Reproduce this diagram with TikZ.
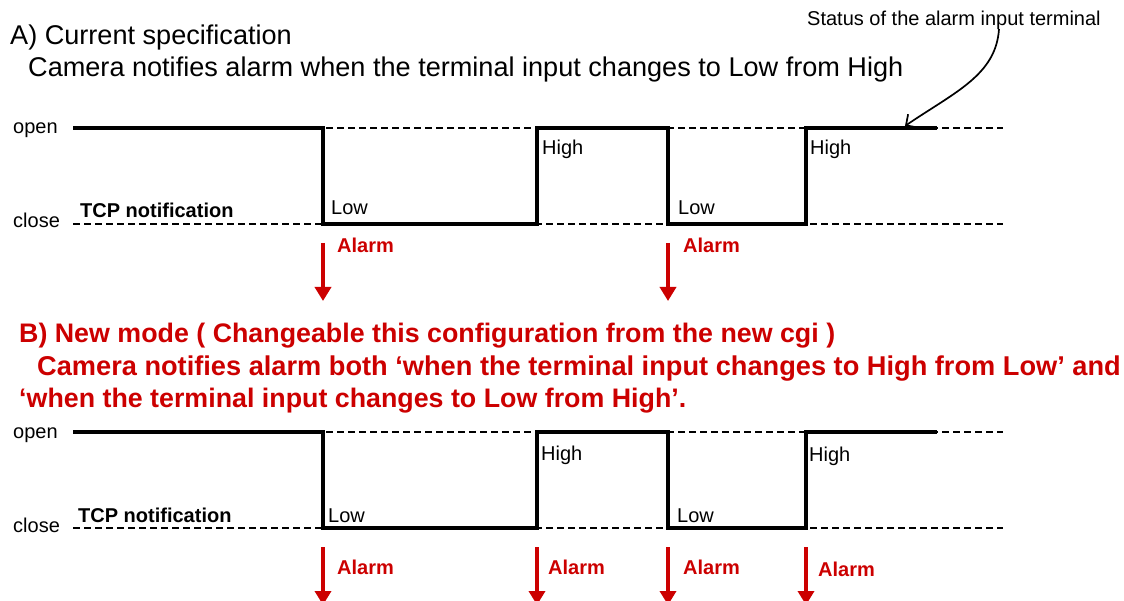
\documentclass[tikz,border=0pt]{standalone}
\usepackage{fontspec}
\setmainfont{Liberation Sans}
\usetikzlibrary{arrows.meta}
\definecolor{alarmred}{RGB}{204,0,0}
\tikzset{
  signal/.style={line width=4pt},
  level/.style={line width=1.4pt, dash pattern=on 7pt off 4pt},
  alarm/.style={alarmred, line width=4.2pt, -{Triangle[width=16pt,length=14pt]}},
  note/.style={line width=1.7pt, -{Straight Barb[length=8pt,width=16pt]}},
  txt/.style={anchor=base west, inner sep=0pt, font=\fontsize{20}{24}\selectfont},
  boldtxt/.style={txt, font=\fontsize{20}{24}\selectfont\bfseries},
  alarmtxt/.style={boldtxt, text=alarmred},
  headA/.style={anchor=base west, inner sep=0pt, font=\fontsize{27.1}{32}\selectfont},
  headB/.style={anchor=base west, inner sep=0pt, text=alarmred, font=\fontsize{26.8}{32}\selectfont\bfseries}
}
\begin{document}
\begin{tikzpicture}[x=1pt, y=-1pt]
  \useasboundingbox (0,0) rectangle (1124,601);
  \clip (0,0) rectangle (1124,601);
  % A) current specification
  \node[headA] (titleA) at (10,45) {A) Current specification};
  \node[headA] (descA) at (28,77) {Camera notifies alarm when the terminal input changes to Low from High};
  \node[txt] (status) at (807,26) {Status of the alarm input terminal};
  \node[txt] (openA) at (13,134) {open};
  \node[txt] (closeA) at (13,228) {close};
  \node[boldtxt] (tcpA) at (80,218) {TCP notification};
  \draw[level] (73,128) -- (1003,128);
  \draw[level] (73,224) -- (1003,224);
  \draw[signal] (73,128) -- (323,128) -- (323,224) -- (537,224) -- (537,128) -- (668,128)
    -- (668,224) -- (806,224) -- (806,128) -- (937,128);
  \node[txt] (lowA1) at (331,215) {Low};
  \node[txt] (highA1) at (542,155) {High};
  \node[txt] (lowA2) at (678,215) {Low};
  \node[txt] (highA2) at (810,155) {High};
  \coordinate (pin) at (999,29);
  \coordinate (pinEnd) at (905,126);
  \draw[note] (pin) .. controls (996,75) and (955,92) .. (pinEnd);
  \draw[alarm] (323,243) -- (323,301);
  \node[alarmtxt] (alarmA1) at (337,253) {Alarm};
  \draw[alarm] (668,243) -- (668,301);
  \node[alarmtxt] (alarmA2) at (683,253) {Alarm};
  % B) new mode
  \node[headB] (titleB) at (19,343) {B) New mode ( Changeable this configuration from the new cgi )};
  \node[headB, font=\fontsize{27.2}{32}\selectfont\bfseries] (descB1) at (37,375) {Camera notifies alarm both ‘when the terminal input changes to High from Low’ and};
  \node[headB] (descB2) at (19,407) {‘when the terminal input changes to Low from High’.};
  \node[txt] (openB) at (13,438) {open};
  \node[txt] (closeB) at (13,532) {close};
  \node[boldtxt] (tcpB) at (78,522) {TCP notification};
  \draw[level] (73,432) -- (1003,432);
  \draw[level] (73,528) -- (1003,528);
  \draw[signal] (73,432) -- (323,432) -- (323,528) -- (537,528) -- (537,432) -- (668,432)
    -- (668,528) -- (806,528) -- (806,432) -- (937,432);
  \node[txt] (lowB1) at (328,522) {Low};
  \node[txt] (highB1) at (541,460) {High};
  \node[txt] (lowB2) at (677,522) {Low};
  \node[txt] (highB2) at (809,461) {High};
  \draw[alarm] (323,547) -- (323,605);
  \node[alarmtxt] (alarmB1) at (337,574) {Alarm};
  \draw[alarm] (537,547) -- (537,605);
  \node[alarmtxt] (alarmB2) at (548,574) {Alarm};
  \draw[alarm] (668,547) -- (668,605);
  \node[alarmtxt] (alarmB3) at (683,574) {Alarm};
  \draw[alarm] (806,547) -- (806,605);
  \node[alarmtxt] (alarmB4) at (818,576) {Alarm};
\end{tikzpicture}
\end{document}
